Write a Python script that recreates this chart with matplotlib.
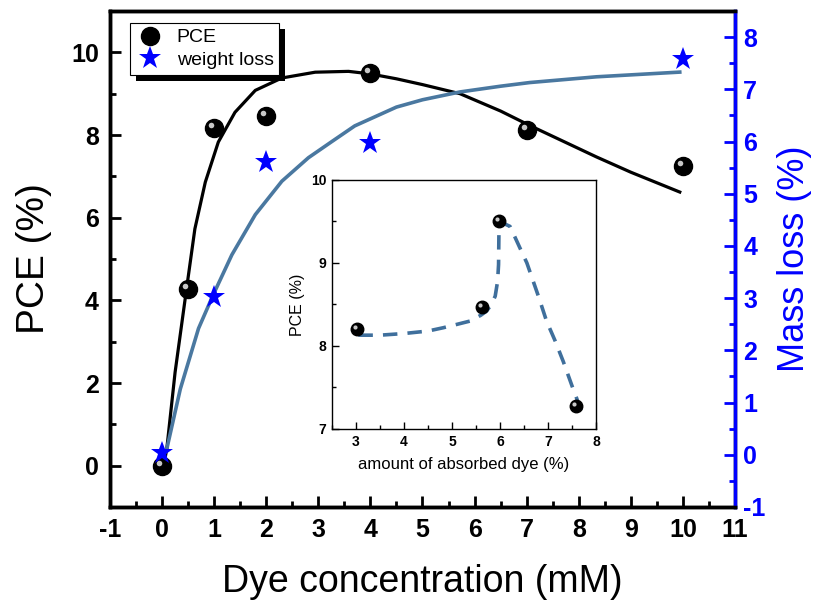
import matplotlib
matplotlib.use('Agg')
import matplotlib.pyplot as plt
import matplotlib.transforms as mtransforms
from matplotlib.patches import Rectangle
from matplotlib.ticker import MultipleLocator

plt.rcParams['font.family'] = ['Liberation Sans', 'DejaVu Sans']
plt.rcParams['axes.unicode_minus'] = False

# dye concentration (mM) vs PCE (%)
conc_pce = [0, 0.5, 1, 2, 4, 7, 10]
pce = [0.0, 4.28, 8.18, 8.45, 9.5, 8.12, 7.26]

# dye concentration (mM) vs weight loss (%)
conc_loss = [0, 1, 2, 4, 10]
loss = [0.03, 3.02, 5.6, 5.97, 7.58]

# fitted curves
fit_pce_x = [0.03, 0.09, 0.25, 0.47, 0.63, 0.83, 1.08, 1.4, 1.79, 2.3, 2.94, 3.58,
             3.99, 4.5, 5.0, 5.72, 6.5, 7.06, 8.34, 9.0, 9.94]
fit_pce_y = [0.0, 0.4, 2.26, 4.28, 5.73, 6.86, 7.83, 8.55, 9.08, 9.38, 9.52, 9.54,
             9.48, 9.36, 9.22, 9.0, 8.58, 8.23, 7.47, 7.1, 6.62]
fit_loss_x = [0.03, 0.09, 0.35, 0.7, 0.98, 1.34, 1.79, 2.3, 2.81, 3.26, 3.7, 4.5,
              5.0, 5.72, 6.5, 7.06, 8.34, 9.94]
fit_loss_y = [0.0, 0.11, 1.26, 2.42, 3.06, 3.83, 4.6, 5.24, 5.69, 6.0, 6.3, 6.66,
              6.8, 6.95, 7.06, 7.13, 7.24, 7.33]

# inset: amount of absorbed dye (%) vs PCE (%)
absorbed = [3.03, 5.62, 5.98, 7.58]
pce_inset = [8.2, 8.47, 9.51, 7.28]
inset_fit_x = [3.05, 3.5, 4.0, 4.5, 4.82, 5.1, 5.375, 5.6, 5.72, 5.82, 5.9, 5.95, 5.97, 5.98,
               6.1, 6.21, 6.4, 6.56, 6.8, 6.97, 7.15, 7.32, 7.5, 7.7]
inset_fit_y = [8.13, 8.13, 8.15, 8.18, 8.22, 8.26, 8.3, 8.37, 8.42, 8.5, 8.6, 8.78, 8.98, 9.48,
               9.47, 9.44, 9.2, 9.0, 8.6, 8.3, 8.06, 7.81, 7.52, 7.21]

fig = plt.figure(figsize=(8.19, 6.09), dpi=100)
ax = fig.add_axes([0.1343, 0.1675, 0.7631, 0.8144])
ax2 = ax.twinx()

# main axis
ax.plot(fit_pce_x, fit_pce_y, color='black', lw=2.3, zorder=2, solid_joinstyle='round')
ax.plot(conc_pce, pce, 'o', color='black', ms=13, zorder=3)
hl = mtransforms.offset_copy(ax.transData, fig=fig, x=-3, y=3, units='dots')
ax.plot(conc_pce, pce, 'o', color='#c8c8c8', ms=4, mew=0, transform=hl, zorder=4)

ax.set_xlim(-1, 11)
ax.set_ylim(-1, 11)
ax.xaxis.set_major_locator(MultipleLocator(1))
ax.xaxis.set_minor_locator(MultipleLocator(0.5))
ax.yaxis.set_minor_locator(MultipleLocator(1))
ax.set_yticks([0, 2, 4, 6, 8, 10])
ax.tick_params(which='both', direction='in', width=2, top=False, right=False)
ax.tick_params(which='major', length=8, labelsize=18, pad=8)
ax.tick_params(which='minor', length=4.5)
for lab in ax.get_xticklabels() + ax.get_yticklabels():
    lab.set_fontweight('bold')
for s in ax.spines.values():
    s.set_linewidth(2.5)
ax.set_xlabel('Dye concentration (mM)', fontsize=27, labelpad=16)
ax.set_ylabel('PCE (%)', fontsize=28, labelpad=14)

# right axis
ax2.plot(fit_loss_x, fit_loss_y, color='#4a78a0', lw=2.6, zorder=2, solid_joinstyle='round')
ax2.plot(conc_loss, loss, '*', color='blue', ms=17, mew=0, zorder=3)
ax2.set_ylim(-1, 8.5)
ax2.yaxis.set_minor_locator(MultipleLocator(0.5))
ax2.set_yticks(range(-1, 9))
ax2.tick_params(which='both', direction='in', width=2, colors='blue')
ax2.tick_params(which='major', length=8, labelsize=18, pad=6)
ax2.tick_params(which='minor', length=4.5)
for lab in ax2.get_yticklabels():
    lab.set_fontweight('bold')
ax2.spines['right'].set_color('blue')
for s in ax2.spines.values():
    s.set_linewidth(2.5)
ax2.set_ylabel('Mass loss (%)', fontsize=26, color='blue', labelpad=8)

h1, = ax2.plot([], [], 'o', color='black', ms=13)
h2, = ax2.plot([], [], '*', color='blue', ms=17, mew=0)
leg = ax2.legend([h1, h2], ['PCE', 'weight loss'], loc='upper left',
                 bbox_to_anchor=(0.032, 0.976), borderaxespad=0, fontsize=14,
                 fancybox=False, framealpha=1, edgecolor='black', handletextpad=0.6,
                 borderpad=0.3, labelspacing=0.25, handlelength=1.5)
leg.get_frame().set_linewidth(0.8)
leg.set_zorder(10)

# thick drop shadow behind the legend box
fig.canvas.draw()
bb = leg.get_window_extent()
shadow = Rectangle((bb.x0 + 6, bb.y0 - 6), bb.width, bb.height, facecolor='black',
                   edgecolor='none', transform=mtransforms.IdentityTransform(), zorder=9)
ax2.add_artist(shadow)

# inset
axi = fig.add_axes([0.4054, 0.2956, 0.3223, 0.4089])
axi.plot(inset_fit_x, inset_fit_y, '--', color='#3f6f9c', lw=2.6, dashes=(4, 2.8))
axi.plot(absorbed, pce_inset, 'o', color='black', ms=9)
hl2 = mtransforms.offset_copy(axi.transData, fig=fig, x=-2, y=2, units='dots')
axi.plot(absorbed, pce_inset, 'o', color='#c8c8c8', ms=3, mew=0, transform=hl2)
axi.set_xlim(2.5, 8)
axi.set_ylim(7, 10)
axi.xaxis.set_major_locator(MultipleLocator(1))
axi.xaxis.set_minor_locator(MultipleLocator(0.5))
axi.yaxis.set_major_locator(MultipleLocator(1))
axi.yaxis.set_minor_locator(MultipleLocator(0.5))
axi.tick_params(which='both', direction='in', width=1, top=False, right=False)
axi.tick_params(which='major', length=5, labelsize=10, pad=4)
axi.tick_params(which='minor', length=3)
for lab in axi.get_xticklabels() + axi.get_yticklabels():
    lab.set_fontweight('bold')
for s in axi.spines.values():
    s.set_linewidth(1)
axi.set_xlabel('amount of absorbed dye (%)', fontsize=12, labelpad=6)
axi.set_ylabel('PCE (%)', fontsize=11.5, labelpad=4)

fig.savefig('out.png', dpi=100)
